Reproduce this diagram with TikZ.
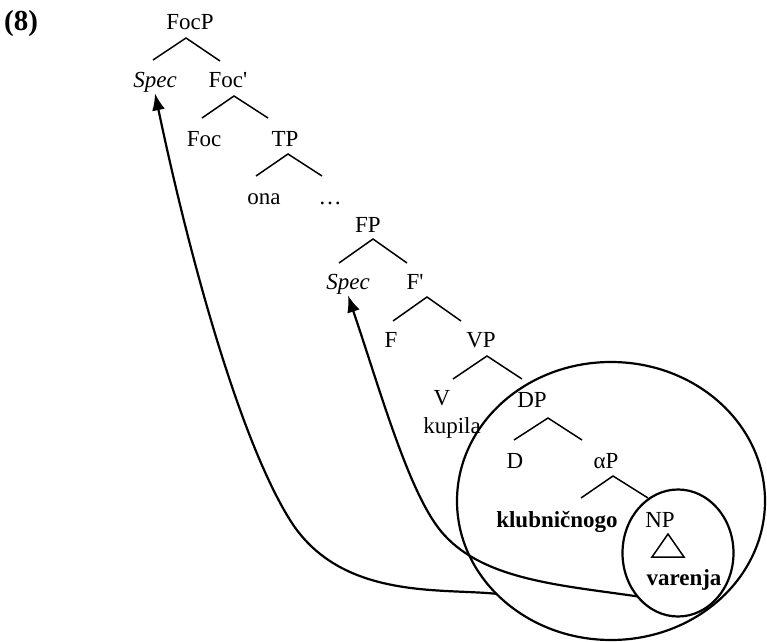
\documentclass[tikz,border=0pt]{standalone}
\usepackage{fontspec}
\setmainfont{Liberation Serif}
\usetikzlibrary{arrows.meta,shapes.geometric}
\begin{document}
\begin{tikzpicture}[x=0.5pt,y=-0.5pt,
  lab/.style={anchor=base,inner sep=0pt,font=\fontsize{11.5}{13}\selectfont},
  boldlab/.style={lab,font=\fontsize{11.5}{13}\selectfont\bfseries},
  branch/.style={line width=0.75pt},
  ring/.style={draw,ellipse,line width=1.1pt,inner sep=0pt,outer sep=0pt},
  move/.style={line width=1.1pt,-{Latex[length=8.5pt,width=6.5pt]}}]
\useasboundingbox (0,0) rectangle (767,642);

% example number
\node[lab,font=\fontsize{14.5}{16}\selectfont\bfseries] (ex) at (21,31) {(8)};

% tree labels
\node[lab] (FocP) at (190,30) {FocP};
\node[lab] (SpecA) at (155,88) {\textit{Spec}};
\node[lab] (FocBar) at (228,88) {Foc\textquotesingle};
\node[lab] (Foc) at (204,147) {Foc};
\node[lab] (TP) at (285,147) {TP};
\node[lab] (ona) at (264,205) {ona};
\node[lab] (dots) at (330,205) {…};
\node[lab] (FP) at (368,233) {FP};
\node[lab] (SpecB) at (348,290) {\textit{Spec}};
\node[lab] (FBar) at (415,290) {F\textquotesingle};
\node[lab] (F) at (391,348) {F};
\node[lab] (VP) at (481,348) {VP};
\node[lab] (V) at (442,406) {V};
\node[lab] (kupila) at (452,433) {kupila};
\node[lab] (DP) at (532,408) {DP};
\node[lab] (D) at (515,468) {D};
\node[lab] (aP) at (606,468) {αP};
\node[boldlab] (klub) at (557,527) {klubničnogo};
\node[lab] (NP) at (660,527) {NP};
\node[boldlab] (varenja) at (684,585) {varenja};

% branch attachment points
\coordinate (FocP-dn) at (186,38);
\coordinate (SpecA-up) at (153,60);
\coordinate (FocBar-up) at (220,61);
\coordinate (FocBar-dn) at (234,96);
\coordinate (Foc-up) at (202,118);
\coordinate (TP-up) at (268,118);
\coordinate (TP-dn) at (288,154);
\coordinate (ona-up) at (256,176);
\coordinate (dots-up) at (322,176);
\coordinate (FP-dn) at (373,239);
\coordinate (SpecB-up) at (339,263);
\coordinate (FBar-up) at (407,263);
\coordinate (FBar-dn) at (427,297);
\coordinate (F-up) at (393,321);
\coordinate (VP-up) at (461,321);
\coordinate (VP-dn) at (487,356);
\coordinate (V-up) at (453,379);
\coordinate (DP-up) at (522,379);
\coordinate (DP-dn) at (548,418);
\coordinate (D-up) at (514,440);
\coordinate (aP-up) at (582,440);
\coordinate (aP-dn) at (613,476);
\coordinate (klub-up) at (581,498);
\coordinate (NP-up) at (648,498);
\coordinate (NP-dn) at (668,534);
\coordinate (tri-l) at (652,557);
\coordinate (tri-r) at (684,557);

% branches
\draw[branch] (SpecA-up) -- (FocP-dn) -- (FocBar-up);
\draw[branch] (Foc-up) -- (FocBar-dn) -- (TP-up);
\draw[branch] (ona-up) -- (TP-dn) -- (dots-up);
\draw[branch] (SpecB-up) -- (FP-dn) -- (FBar-up);
\draw[branch] (F-up) -- (FBar-dn) -- (VP-up);
\draw[branch] (V-up) -- (VP-dn) -- (DP-up);
\draw[branch] (D-up) -- (DP-dn) -- (aP-up);
\draw[branch] (klub-up) -- (aP-dn) -- (NP-up);
\draw[branch] (NP-dn) -- (tri-l) -- (tri-r) -- cycle;

% circled constituents
\node[ring,minimum width=154pt,minimum height=139pt] (bigRing) at (611,501) {};
\node[ring,minimum width=55.5pt,minimum height=63.5pt] (smallRing) at (678,553) {};

% movement arrows
\draw[move] (bigRing.219) .. controls (440,588) and (340,600) .. (290,520)
  .. controls (240,440) and (190,260) .. (SpecA.south);
\draw[move] (smallRing.227) .. controls (560,585) and (480,580) .. (440,530)
  .. controls (408,490) and (380,390) .. (SpecB.south);
\end{tikzpicture}
\end{document}
